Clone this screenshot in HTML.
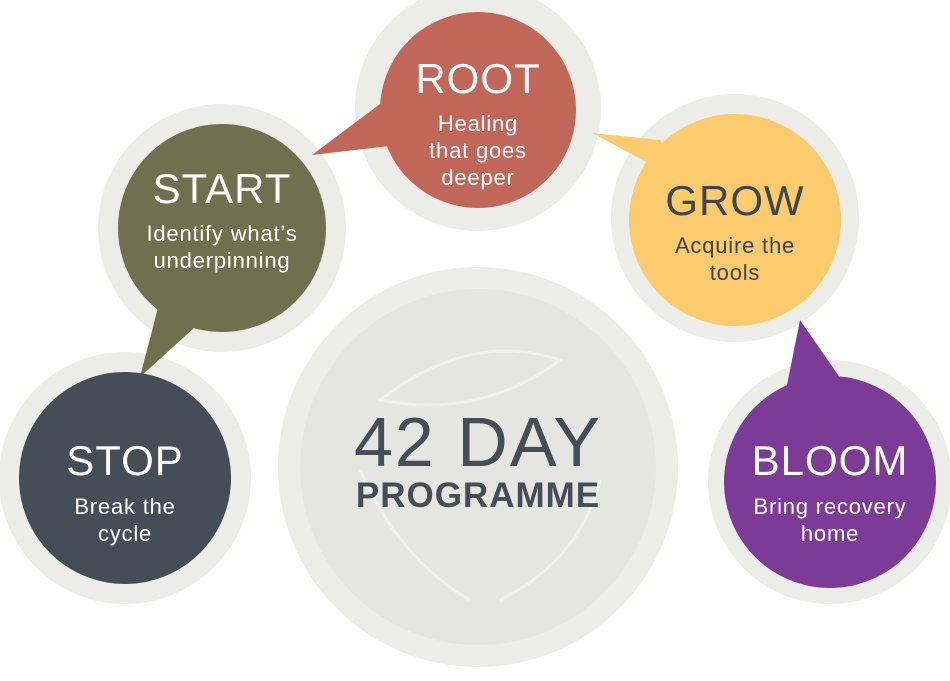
<!DOCTYPE html>
<html><head><style>
html,body{margin:0;padding:0;background:#fff;}
svg{display:block;}
text{font-family:"Liberation Sans",sans-serif;text-anchor:middle;}
.t{font-size:42px;fill:#fff;letter-spacing:1px;}
.s{font-size:22px;fill:#fff;letter-spacing:0.8px;}
</style></head><body>
<svg width="950" height="681" viewBox="0 0 950 681" xmlns="http://www.w3.org/2000/svg">
<g fill="#ecece8">
<circle cx="478" cy="467" r="200"/>
<circle cx="478" cy="108" r="123"/>
<circle cx="222" cy="228" r="124"/>
<circle cx="735" cy="218" r="124"/>
<circle cx="125" cy="478" r="126"/>
<circle cx="830" cy="482" r="122"/>
</g>
<circle cx="478" cy="467" r="178" fill="#e5e5e1"/>
<g fill="none" stroke="#f3f3f0" stroke-width="3" opacity="0.8">
<path d="M380 400 Q470 330 560 360 Q480 420 380 400Z"/>
<path d="M360 470 Q400 560 470 600"/>
<path d="M600 480 Q580 560 500 600"/>
</g>
<polygon points="388,98 398,145 312,155" fill="#c0675a"/>
<polygon points="160,300 205,318 140,377" fill="#6e714d"/>
<polygon points="592,133 660,140 690,185" fill="#fccb6e"/>
<polygon points="800,320 785,395 845,385" fill="#7b3b96"/>
<circle cx="478" cy="110" r="98" fill="#c0675a"/>
<circle cx="222" cy="228" r="104" fill="#6e714d"/>
<circle cx="735" cy="220" r="106" fill="#fccb6e"/>
<circle cx="125" cy="478" r="106" fill="#454e56"/>
<circle cx="830" cy="482" r="106" fill="#7b3b96"/>
<text x="478" y="93" class="t">ROOT</text>
<text x="478" y="131" class="s">Healing</text>
<text x="478" y="158" class="s">that goes</text>
<text x="478" y="185" class="s">deeper</text>
<text x="222" y="203" class="t">START</text>
<text x="222" y="241" class="s">Identify what’s</text>
<text x="222" y="268" class="s">underpinning</text>
<text x="735" y="215" class="t" style="fill:#3f464d">GROW</text>
<text x="735" y="253" class="s" style="fill:#3f464d">Acquire the</text>
<text x="735" y="280" class="s" style="fill:#3f464d">tools</text>
<text x="125" y="475" class="t">STOP</text>
<text x="125" y="514" class="s">Break the</text>
<text x="125" y="541" class="s">cycle</text>
<text x="830" y="475" class="t">BLOOM</text>
<text x="830" y="514" class="s">Bring recovery</text>
<text x="830" y="541" class="s">home</text>
<text x="478" y="466" style="font-size:70px;fill:#454e56;letter-spacing:2px">42 DAY</text>
<text x="478" y="507" style="font-size:35px;fill:#454e56;font-weight:bold;letter-spacing:1px">PROGRAMME</text>
</svg>
</body></html>
